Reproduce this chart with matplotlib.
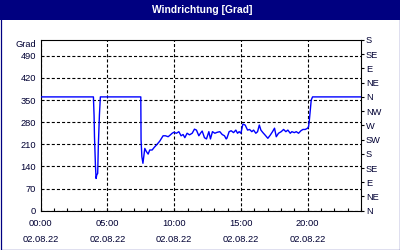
import matplotlib
matplotlib.use('Agg')
import matplotlib.pyplot as plt
from matplotlib.patches import Rectangle

# ---- data (hours since 00:00 on 02.08.22, wind direction in degrees) ----
hours = [0, 3.95, 4.0, 4.03, 4.1, 4.15, 4.2, 4.27, 4.32, 4.4, 4.47,
         7.5, 7.52, 7.58, 7.66, 7.8, 7.92, 8.05, 8.17, 8.35, 8.52, 8.72, 8.92,
         9.17, 9.35, 9.55, 9.72, 9.85, 9.97, 10.17, 10.35, 10.52, 10.67, 10.8,
         10.97, 11.15, 11.35, 11.52, 11.67, 11.85, 11.97, 12.1, 12.27, 12.42,
         12.6, 12.72, 12.87, 13.05, 13.22, 13.42, 13.6, 13.77, 13.9, 13.95,
         14.12, 14.27, 14.45, 14.62, 14.75, 14.87, 15.0, 15.15, 15.32, 15.5,
         15.65, 15.82, 15.95, 16.12, 16.25, 16.38, 16.5, 16.65, 16.82, 17.02,
         17.2, 17.37, 17.52, 17.65, 17.82, 18.02, 18.2, 18.37, 18.52, 18.7,
         18.82, 19.0, 19.15, 19.32, 19.5, 19.65, 19.82, 20.0, 20.07, 20.12,
         20.2, 20.27, 20.37, 24]
direction = [360, 360, 300, 234, 145, 102, 113, 118, 208, 303, 360,
             360, 224, 171, 150, 197, 187, 179, 192, 192, 201, 210, 220,
             237, 237, 234, 240, 245, 248, 245, 250, 237, 241, 231,
             245, 240, 245, 258, 255, 237, 245, 252, 231, 227,
             250, 227, 250, 245, 248, 250, 241, 237, 227, 229,
             250, 253, 247, 255, 245, 250, 245, 274, 271, 255,
             257, 250, 255, 245, 250, 271, 255, 247, 239, 229,
             239, 250, 261, 234, 245, 250, 257, 250, 255, 245,
             250, 247, 250, 245, 253, 257, 257, 261, 266, 282,
             318, 350, 360, 360]

title = 'Windrichtung [Grad]'
unit_label = 'Grad'
y_ticks = [0, 70, 140, 210, 280, 350, 420, 490]
x_major = [0, 5, 10, 15, 20]
x_minor = list(range(0, 25))
x_labels = ['00:00\n02.08.22', '05:00\n02.08.22', '10:00\n02.08.22',
            '15:00\n02.08.22', '20:00\n02.08.22']
compass_ticks = list(range(0, 541, 45))
compass_labels = ['N', 'NE', 'E', 'SE', 'S', 'SW', 'W', 'NW',
                  'N', 'NE', 'E', 'SE', 'S']

NAVY = '#000080'
TXT = '#000033'
FONT = 'Liberation Sans'
FS = 6.7

plt.rcParams['lines.scale_dashes'] = False

W, H = 400, 250
fig = plt.figure(figsize=(W / 100, H / 100), dpi=100)
fig.patch.set_facecolor('white')

# title bar
fig.add_artist(Rectangle((0, 1 - 20 / H), 1, 20 / H, transform=fig.transFigure,
                         facecolor=NAVY, edgecolor='none', zorder=0))
# outer border
fig.add_artist(Rectangle((0.5 / W, 0.5 / H), (W - 1) / W, (H - 1) / H,
                         transform=fig.transFigure, fill=False,
                         edgecolor=NAVY, lw=0.9, zorder=5))
fig.text(202 / W, 1 - 10 / H, title, ha='center', va='center', color='white',
         fontweight='bold', family=FONT, fontsize=7.4)

left, right, top, bottom = 40.7, 361.0, 40.0, 210.7
ax = fig.add_axes([left / W, 1 - bottom / H, (right - left) / W, (bottom - top) / H])
ax.plot(hours, direction, color='#0000ff', lw=1.0, zorder=3)

ax.set_xlim(0, 24)
ax.set_ylim(0, 540)
ax.set_xticks(x_major)
ax.set_xticklabels(x_labels)
ax.set_xticks(x_minor, minor=True)
ax.set_yticks(y_ticks)
ax.set_yticklabels([str(v) for v in y_ticks])

for s in ax.spines.values():
    s.set_color('black')
    s.set_linewidth(0.8)

ax.tick_params(axis='x', which='both', direction='in', length=2.3, width=0.8,
               color='black', pad=6.2, labelsize=FS, labelcolor=TXT)
ax.tick_params(axis='y', which='both', length=0, pad=3.4, labelsize=FS,
               labelcolor=TXT)
for lbl in ax.get_xticklabels() + ax.get_yticklabels():
    lbl.set_family(FONT)
for lbl in ax.get_xticklabels():
    lbl.set_linespacing(1.9)

ax.grid(True, which='major', color='black', lw=0.8, linestyle=(0, (2.2, 1.5)))
ax.set_axisbelow(True)

ax.text(-3.4 / 72 * 100 / (right - left), 1.0, unit_label, transform=ax.transAxes,
        ha='right', va='top', fontsize=FS, family=FONT, color=TXT)

ax2 = ax.twinx()
ax2.set_ylim(0, 540)
ax2.set_yticks(compass_ticks)
ax2.set_yticklabels(compass_labels)
ax2.tick_params(axis='y', direction='out', length=2.3, width=0.8, color='black',
                pad=1.2, labelsize=FS, labelcolor=TXT)
for lbl in ax2.get_yticklabels():
    lbl.set_family(FONT)
for s in ax2.spines.values():
    s.set_visible(False)

fig.savefig('out.png', dpi=100, facecolor='white')
